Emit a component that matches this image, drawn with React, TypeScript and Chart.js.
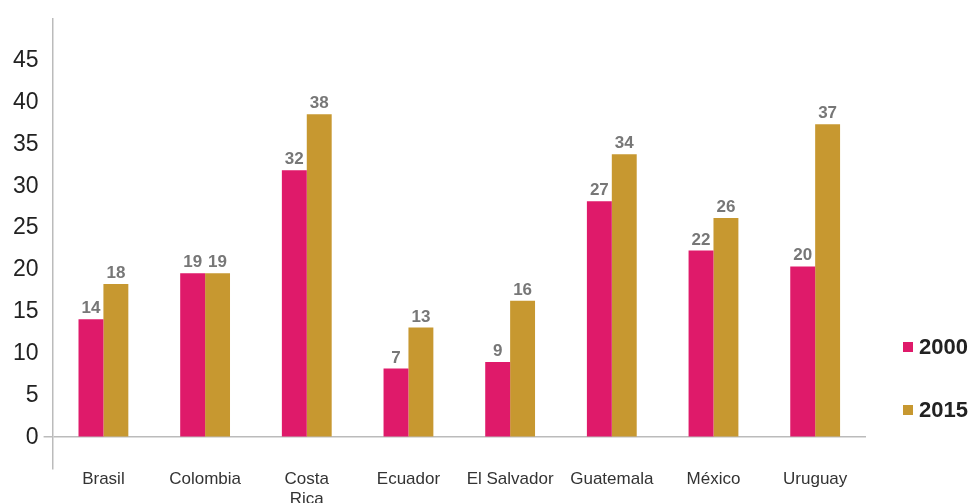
import React, { useEffect, useRef } from "react";
import { Chart, registerables } from "chart.js";

Chart.register(...registerables);

const categories: (string | string[])[] = [
  "Brasil",
  "Colombia",
  ["Costa", "Rica"],
  "Ecuador",
  "El Salvador",
  "Guatemala",
  "México",
  "Uruguay",
];
const seriesNames = ["2000", "2015"];
const values2000 = [14.1, 19.6, 31.9, 8.2, 9.0, 28.2, 22.3, 20.4];
const values2015 = [18.3, 19.6, 38.6, 13.1, 16.3, 33.8, 26.2, 37.4];
const labels2000 = [14, 19, 32, 7, 9, 27, 22, 20];
const labels2015 = [18, 19, 38, 13, 16, 34, 26, 37];
const yTicks = [0, 5, 10, 15, 20, 25, 30, 35, 40, 45];

const PINK = "#DF1A6A";
const GOLD = "#C79830";
const FONT = "'Liberation Sans', Arial, Helvetica, sans-serif";

const valueLabelPlugin = {
  id: "valueLabels",
  afterDatasetsDraw(chart: any) {
    const ctx = chart.ctx;
    const allLabels = [labels2000, labels2015];
    ctx.save();
    ctx.font = `bold 17px ${FONT}`;
    ctx.fillStyle = "#777777";
    ctx.textAlign = "center";
    ctx.textBaseline = "alphabetic";
    chart.data.datasets.forEach((ds: any, di: number) => {
      const meta = chart.getDatasetMeta(di);
      meta.data.forEach((bar: any, i: number) => {
        ctx.fillText(String(allLabels[di][i]), bar.x, bar.y - 6);
      });
    });
    ctx.restore();
  },
};

const legendPlugin = {
  id: "sideLegend",
  afterDraw(chart: any) {
    const ctx = chart.ctx;
    const area = chart.chartArea;
    const offsets = [122, 59];
    ctx.save();
    ctx.font = `bold 22px ${FONT}`;
    ctx.textBaseline = "middle";
    ctx.textAlign = "left";
    chart.data.datasets.forEach((ds: any, di: number) => {
      const cy = area.bottom - offsets[di];
      ctx.fillStyle = ds.backgroundColor;
      ctx.fillRect(area.right + 37, cy - 5, 10, 10);
      ctx.fillStyle = "#222222";
      ctx.fillText(ds.label, area.right + 53, cy + 1);
    });
    ctx.restore();
  },
};

export default function App() {
  const canvasRef = useRef<HTMLCanvasElement | null>(null);

  useEffect(() => {
    document.body.style.margin = "0";
    const canvas = canvasRef.current!;
    const chart = new Chart(canvas, {
      type: "bar",
      data: {
        labels: categories as any,
        datasets: [
          {
            label: seriesNames[0],
            data: values2000,
            backgroundColor: PINK,
            borderWidth: 0,
            categoryPercentage: 0.49,
            barPercentage: 1,
          },
          {
            label: seriesNames[1],
            data: values2015,
            backgroundColor: GOLD,
            borderWidth: 0,
            categoryPercentage: 0.49,
            barPercentage: 1,
          },
        ],
      },
      options: {
        responsive: false,
        animation: false,
        layout: { padding: { left: 8, right: 108, top: 14, bottom: 0 } },
        plugins: {
          legend: { display: false },
          tooltip: { enabled: false },
        },
        scales: {
          x: {
            grid: { display: false, drawTicks: false },
            border: { display: false },
            ticks: {
              color: "#333333",
              font: { family: FONT, size: 17, lineHeight: 1.18 },
              padding: 0,
              maxRotation: 0,
              autoSkip: false,
            },
            afterFit(scale: any) {
              scale.height = 34;
            },
          },
          y: {
            min: -3.8,
            max: 50,
            afterBuildTicks(scale: any) {
              scale.ticks = yTicks.map((v) => ({ value: v }));
            },
            grid: {
              display: true,
              drawTicks: true,
              tickLength: 9,
              color: (c: any) =>
                c.tick && c.tick.value === 0 ? "#BBBBBB" : "rgba(0,0,0,0)",
              lineWidth: 1.5,
            },
            border: { display: true, color: "#BBBBBB", width: 1.5 },
            ticks: {
              color: "#222222",
              font: { family: FONT, size: 23 },
              padding: 5,
            },
          },
        },
      },
      plugins: [valueLabelPlugin, legendPlugin],
    });
    return () => chart.destroy();
  }, []);

  return (
    <div style={{ position: "fixed", left: 0, top: 0, width: 974, height: 503, background: "#fff" }}>
      <canvas ref={canvasRef} width={974} height={503} />
    </div>
  );
}
